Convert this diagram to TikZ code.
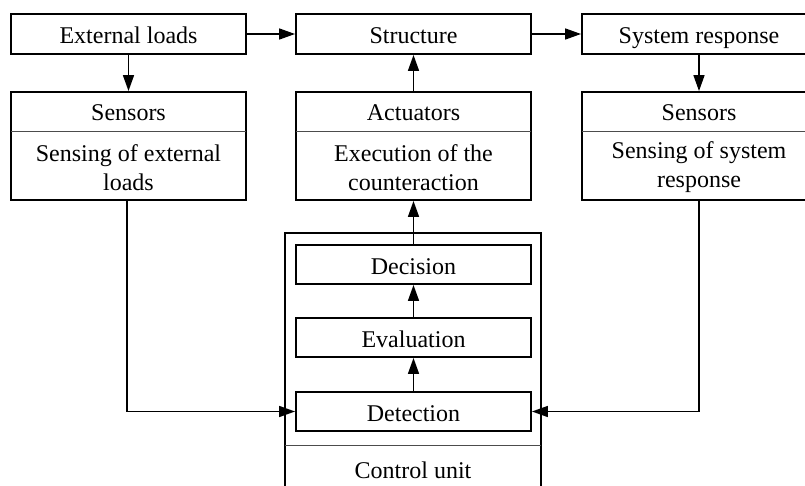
\documentclass[tikz,border=0pt]{standalone}
\usepackage{fontspec}
\setmainfont{Liberation Serif}
\usetikzlibrary{arrows.meta}
\begin{document}
\begin{tikzpicture}[x=1pt,y=-1pt,
  font=\fontsize{24}{29}\selectfont,
  box/.style={draw,line width=1.9pt,rectangle,inner sep=0pt,align=center,text height=20pt,text depth=0pt},
  divline/.style={draw=black!70,line width=0.9pt},
  lbl/.style={inner sep=0pt,align=center},
  arr/.style={line width=1.6pt,-{Triangle[length=16pt,width=11pt]}},
  conn/.style={line width=1.6pt}]
\useasboundingbox (0,0) rectangle (805,486);
\clip (0,0) rectangle (805,486);
% top row
\node[box,minimum width=235pt,minimum height=40pt] (ext) at (128.5,34) {External loads};
\node[box,minimum width=235pt,minimum height=40pt] (str) at (413.5,34) {Structure};
\node[box,minimum width=234pt,minimum height=40pt] (sys) at (699,34) {System response};
% second row
\node[box,minimum width=235pt,minimum height=108pt] (sensL) at (128.5,146) {};
\node[box,minimum width=235pt,minimum height=108pt] (act) at (413.5,146) {};
\node[box,minimum width=234pt,minimum height=108pt] (sensR) at (699,146) {};
\draw[divline] (11,131) -- (246,131);
\draw[divline] (296,131) -- (531,131);
\draw[divline] (582,131) -- (816,131);
\node[lbl] (sensLt) at (128.5,113) {Sensors};
\node[lbl] (sensLb) at (128.5,167.5) {Sensing of external\\loads};
\node[lbl] (actt) at (413.5,113) {Actuators};
\node[lbl] (actb) at (413.5,167.5) {Execution of the\\counteraction};
\node[lbl] (sensRt) at (699,113) {Sensors};
\node[lbl] (sensRb) at (699,167.5) {Sensing of system\\response};
% control unit
\node[draw,line width=1.9pt,inner sep=0pt,minimum width=256pt,minimum height=272pt] (cu) at (413,369) {};
\draw[divline] (285,445) -- (541,445);
\node[lbl] (cut) at (413,470) {Control unit};
\node[box,minimum width=235pt,minimum height=39pt] (dec) at (413.5,264.5) {Decision};
\node[box,minimum width=235pt,minimum height=39pt] (eva) at (413.5,337.5) {Evaluation};
\node[box,minimum width=235pt,minimum height=39pt] (det) at (413.5,411.5) {Detection};
\coordinate (cl) at (127,411.5);
\coordinate (cr) at (699,411.5);
% connectors
\draw[arr] (ext.east) -- (str.west);
\draw[arr] (str.east) -- (sys.west);
\draw[arr] (ext.south) -- (sensL.north);
\draw[arr] (act.north) -- (str.south);
\draw[arr] (sys.south) -- (sensR.north);
\draw[arr] (dec.north) -- (act.south);
\draw[arr] (eva.north) -- (dec.south);
\draw[arr] (det.north) -- (eva.south);
\draw[arr] (sensL.south -| cl) -- (cl) -- (det.west);
\draw[arr] (sensR.south -| cr) -- (cr) -- (det.east);
\end{tikzpicture}
\end{document}
